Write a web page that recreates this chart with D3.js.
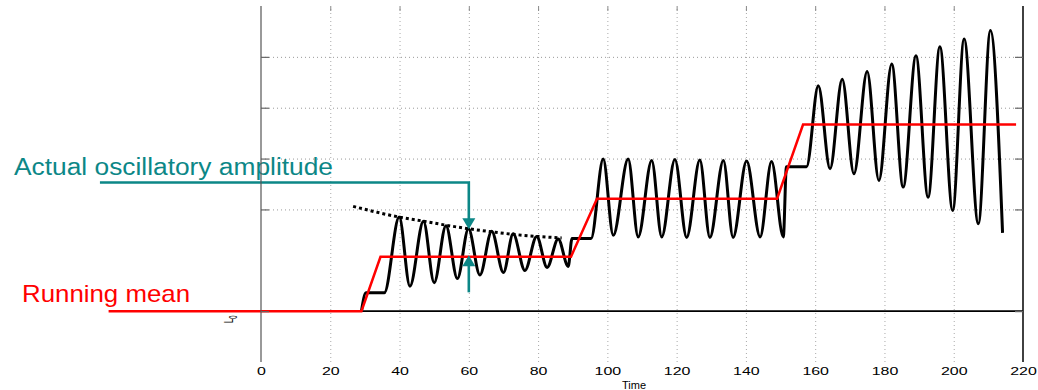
<!DOCTYPE html>
<html>
<head>
<meta charset="utf-8">
<script src="https://cdn.jsdelivr.net/npm/d3@7"></script>
<style>
  body { margin: 0; background: #fff; }
  svg { display: block; }
  text { font-family: "Liberation Sans", Arial, Helvetica, sans-serif; }
</style>
</head>
<body>
<svg id="chart"></svg>
<script>
const timeTicks = [0, 20, 40, 60, 80, 100, 120, 140, 160, 180, 200, 220];
const levelTicks = [0, 2, 3, 4, 5];
const gridLevels = [2, 3, 4, 5];

// measured signal: step corners, then alternating peaks / troughs
const signalTime = [29, 30.3, 35.6,
  39.9, 43.0, 46.9, 50.0, 53.4, 56.7, 59.9, 63.2, 66.6, 70.0, 72.8, 76.2, 79.6, 82.6, 85.8, 88.7,
  89.8, 95.3,
  98.8, 101.7, 106.0, 108.9, 112.8, 115.7, 119.5, 122.9, 126.7, 129.6, 133.5, 136.3, 140.2, 144.1, 147.4, 150.8,
  151.7, 157.5,
  160.9, 164.3, 167.8, 171.2, 175.0, 178.4, 182.1, 185.4, 189.1, 192.6, 196.0, 199.7, 203.0, 207.1, 210.6, 214.1];
const signalLevel = [0, 0.36, 0.36,
  1.85, 0.49, 1.77, 0.56, 1.68, 0.64, 1.62, 0.71, 1.57, 0.76, 1.52, 0.80, 1.47, 0.86, 1.42, 0.88,
  1.43, 1.43,
  2.99, 1.49, 2.99, 1.46, 2.96, 1.46, 2.98, 1.45, 2.97, 1.45, 2.96, 1.45, 2.95, 1.46, 2.94, 1.46,
  2.84, 2.84,
  4.43, 2.80, 4.56, 2.70, 4.71, 2.57, 4.86, 2.44, 5.02, 2.24, 5.20, 1.98, 5.35, 1.72, 5.52, 1.54];

const meanTime = [-44, 29, 34.5, 89.5, 97, 149, 156.5, 218];
const meanLevel = [0, 0, 1.07, 1.07, 2.21, 2.21, 3.67, 3.67];

const envTime = [26.6, 39.9, 46.9, 53.4, 59.9, 66.6, 72.8, 79.6, 86.8];
const envLevel = [2.06, 1.85, 1.77, 1.69, 1.62, 1.56, 1.51, 1.47, 1.44];

// annotation arrows (data units)
const ampTime = 60, ampLeaderStart = -46.5, ampLeaderLevel = 2.53;
const ampPeak = 1.61, ampMean = 1.10, ampTail = 0.37;

const WIDTH = 1038, HEIGHT = 390;
const TEAL = "#0c8787", RED = "#ff0000";

const svg = d3.select("#chart").attr("width", WIDTH).attr("height", HEIGHT);

const x = d3.scaleLinear().domain([0, 220]).range([261, 1023]);
const y = d3.scaleLinear().domain([-1, 6]).range([362, 6]);
const plotTop = y.range()[1], plotBottom = y.range()[0];
const plotLeft = x.range()[0], plotRight = x.range()[1];

// grid
svg.append("g")
  .attr("transform", `translate(0,${plotBottom})`)
  .call(d3.axisBottom(x).tickValues(timeTicks.slice(1, -1)).tickSize(-(plotBottom - plotTop)).tickFormat(""))
  .call(g => g.select(".domain").remove())
  .selectAll("line").attr("stroke", "#aaa").attr("stroke-dasharray", "1,3");

svg.append("g")
  .attr("transform", `translate(${plotLeft},0)`)
  .call(d3.axisLeft(y).tickValues(gridLevels).tickSize(-(plotRight - plotLeft)).tickFormat(""))
  .call(g => g.select(".domain").remove())
  .selectAll("line").attr("stroke", "#999").attr("stroke-dasharray", "1,3");

// L0 reference line
svg.append("line")
  .attr("x1", plotLeft).attr("x2", plotRight)
  .attr("y1", y(0)).attr("y2", y(0))
  .attr("stroke", "#000").attr("stroke-width", 1.6);

// signal
const signal = signalTime.map((t, i) => [t, signalLevel[i]]);
svg.append("path")
  .datum(signal)
  .attr("fill", "none")
  .attr("stroke", "#000")
  .attr("stroke-width", 3)
  .attr("stroke-linejoin", "round")
  .attr("d", d3.line().x(d => x(d[0])).y(d => y(d[1])).curve(d3.curveMonotoneX));

// running mean
const mean = meanTime.map((t, i) => [t, meanLevel[i]]);
svg.append("path")
  .datum(mean)
  .attr("fill", "none")
  .attr("stroke", RED)
  .attr("stroke-width", 2.5)
  .attr("d", d3.line().x(d => x(d[0])).y(d => y(d[1])));

// envelope
const env = envTime.map((t, i) => [t, envLevel[i]]);
svg.append("path")
  .datum(env)
  .attr("fill", "none")
  .attr("stroke", "#000")
  .attr("stroke-width", 3)
  .attr("stroke-dasharray", "3,3")
  .attr("d", d3.line().x(d => x(d[0])).y(d => y(d[1])).curve(d3.curveMonotoneX));

// amplitude annotation
const ax = x(ampTime);
const ann = svg.append("g").attr("stroke", TEAL).attr("fill", "none").attr("stroke-width", 2.6);
ann.append("path")
  .attr("d", `M${x(ampLeaderStart)},${y(ampLeaderLevel)}H${ax}V${y(ampPeak) - 10}`);
ann.append("path")
  .attr("d", `M${ax},${y(ampTail)}V${y(ampMean) + 10}`);
svg.append("path")
  .attr("fill", TEAL)
  .attr("d", `M${ax},${y(ampPeak)}l-6.5,-11h13z`);
svg.append("path")
  .attr("fill", TEAL)
  .attr("d", `M${ax},${y(ampMean)}l-6.5,11h13z`);

svg.append("text")
  .attr("x", 14).attr("y", 175)
  .attr("font-size", 23)
  .attr("fill", TEAL)
  .attr("textLength", 319).attr("lengthAdjust", "spacingAndGlyphs")
  .text("Actual oscillatory amplitude");

svg.append("text")
  .attr("x", 22).attr("y", 302)
  .attr("font-size", 24)
  .attr("fill", RED)
  .attr("textLength", 168).attr("lengthAdjust", "spacingAndGlyphs")
  .text("Running mean");

// axes lines and inward ticks
svg.append("line").attr("x1", plotLeft).attr("x2", plotLeft).attr("y1", plotTop).attr("y2", plotBottom)
  .attr("stroke", "#555").attr("stroke-width", 1.2);
svg.append("line").attr("x1", plotRight).attr("x2", plotRight).attr("y1", plotTop).attr("y2", plotBottom)
  .attr("stroke", "#111").attr("stroke-width", 1.6);

svg.append("g").attr("transform", `translate(${plotLeft},0)`)
  .call(d3.axisLeft(y).tickValues(levelTicks).tickSize(-8).tickFormat(""))
  .call(g => g.select(".domain").remove())
  .selectAll("line").attr("stroke", "#666").attr("stroke-width", 1.2);
svg.append("g").attr("transform", `translate(${plotRight},0)`)
  .call(d3.axisRight(y).tickValues(levelTicks).tickSize(-8).tickFormat(""))
  .call(g => g.select(".domain").remove())
  .selectAll("line").attr("stroke", "#666").attr("stroke-width", 1.2);
svg.append("g").attr("transform", `translate(0,${plotTop})`)
  .call(d3.axisTop(x).tickValues(timeTicks.slice(1, -1)).tickSize(-5).tickFormat(""))
  .call(g => g.select(".domain").remove())
  .selectAll("line").attr("stroke", "#888");

// x tick labels
const xAxis = svg.append("g")
  .attr("transform", `translate(0,${plotBottom})`)
  .call(d3.axisBottom(x).tickValues(timeTicks).tickSize(0).tickPadding(5));
xAxis.select(".domain").remove();
xAxis.selectAll(".tick text")
  .attr("font-size", 11)
  .attr("fill", "#000")
  .attr("font-family", "\"Liberation Sans\", Arial, sans-serif")
  .attr("transform", "scale(1.45,1)");

svg.append("text")
  .attr("x", 634).attr("y", 389)
  .attr("text-anchor", "middle")
  .attr("font-size", 11)
  .text("Time");

// L0 label on the y axis
const l0 = svg.append("text")
  .attr("transform", `translate(233,${y(0) + 12}) rotate(-90) scale(1,1.7)`)
  .attr("font-size", 8);
l0.append("tspan").text("L");
l0.append("tspan").attr("font-size", 6).attr("dy", 2.5).text("0");
</script>
</body>
</html>
